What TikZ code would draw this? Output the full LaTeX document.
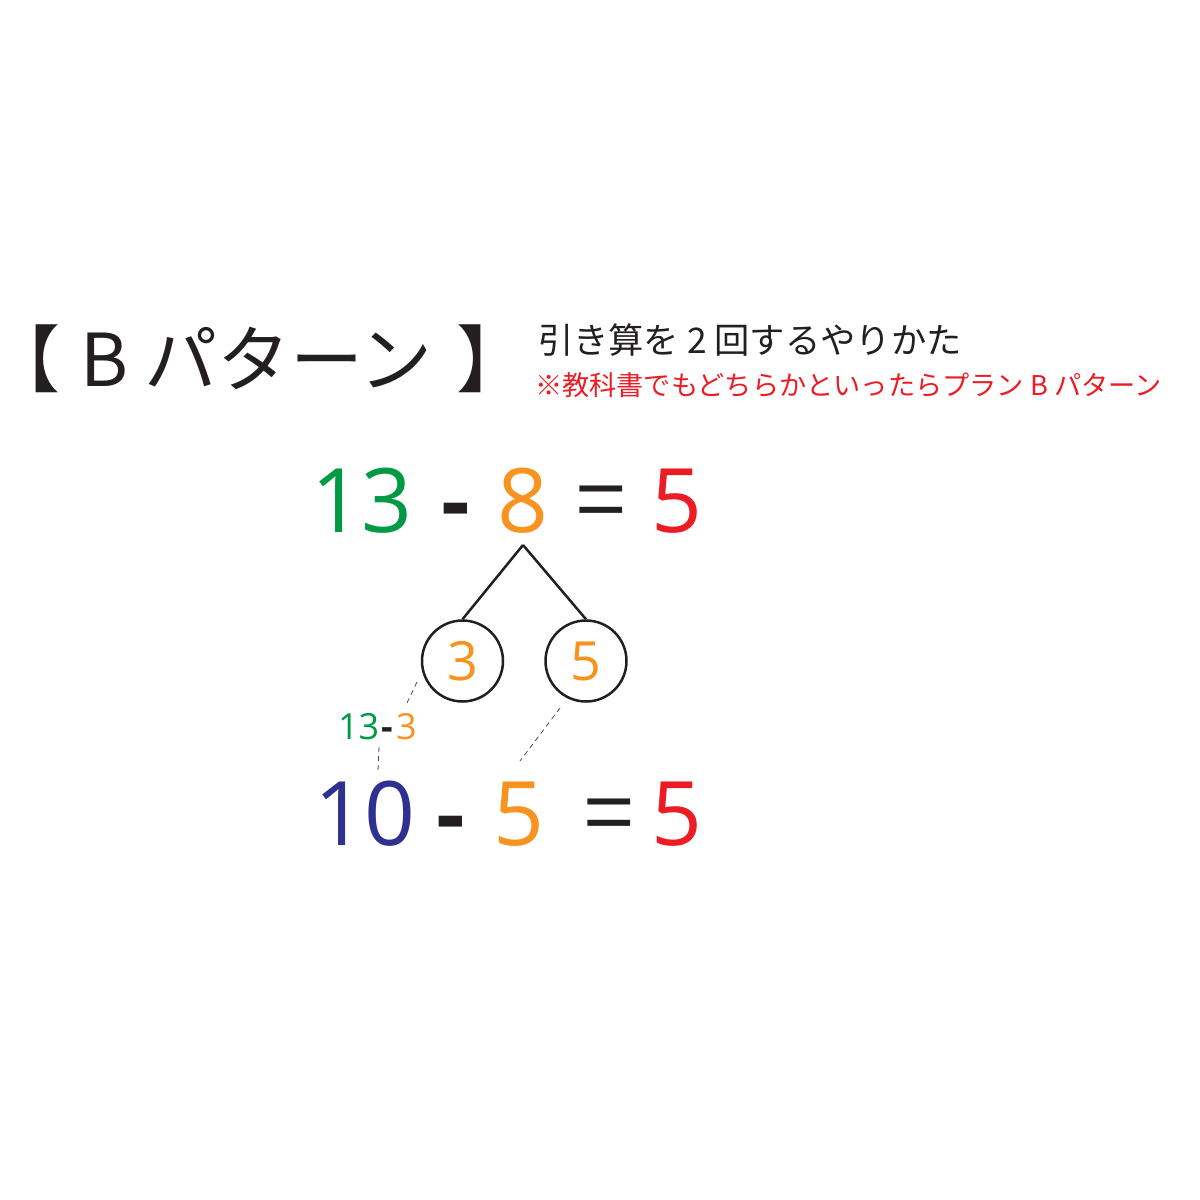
\documentclass[tikz,border=0pt]{standalone}
\usepackage{fontspec}
\setmainfont{Noto Sans CJK JP}
\newfontfamily\digits{Open Sans}
\definecolor{cgreen}{RGB}{0,153,68}
\definecolor{corange}{RGB}{247,147,30}
\definecolor{cred}{RGB}{237,28,36}
\definecolor{cnavy}{RGB}{46,49,146}
\definecolor{cblack}{RGB}{35,31,32}
\tikzset{
  txt/.style={inner sep=0pt, outer sep=0pt, anchor=base west, text=cblack},
  big/.style={txt, font=\digits\fontsize{89}{89}\selectfont},
  bigminus/.style={txt, font=\digits\bfseries\fontsize{89}{89}\selectfont},
  bigeq/.style={txt, font=\fontsize{89}{89}\selectfont},
  title/.style={txt, font=\fontsize{73}{73}\selectfont},
  sub/.style={txt, font=\fontsize{35.3}{36}\selectfont, text height=30pt, text depth=5pt},
  note/.style={txt, font=\fontsize{27.2}{28}\selectfont, text=cred, text height=23pt, text depth=4pt},
  small/.style={txt, font=\digits\fontsize{36}{36}\selectfont},
  smallminus/.style={txt, font=\digits\bfseries\fontsize{36}{36}\selectfont},
  part/.style={draw=cblack, line width=2.5pt, circle, minimum size=81pt, inner sep=0pt, text=corange, font=\digits\fontsize{54}{54}\selectfont},
  branch/.style={draw=cblack, line width=2.5pt},
  guide/.style={draw=black!70, line width=0.8pt, dash pattern=on 5pt off 4pt}
}
\begin{document}
\begin{tikzpicture}[x=1pt,y=-1pt]
\useasboundingbox (0,0) rectangle (1200,1200);
% title
\node[title] (lb) at (0,386) {\kern-13pt【};
\node[title] (tb) at (80,386) {B};
\node[title] (tk) at (144,386) {パターン};
\node[title] (rb) at (456,386) {】};
% subtitle
\node[sub] (s1) at (538,353) {引き算を 2 回するやりかた};
\node[note] (s2) at (535,395) {※教科書でもどちらかといったらプラン B パターン};
% equation 1
\node[big, text=cgreen] (a13) at (311,532) {13};
\node[bigminus] (m1) at (441,532) {-};
\node[big, text=corange] (a8) at (497,532) {8};
\node[bigeq] (e1) at (576,532) {=};
\node[big, text=cred] (r1) at (651,532) {5};
% decomposition
\coordinate (apex) at (523,545);
\node[part] (c3) at (462.5,661) {3};
\node[part] (c5) at (586,661) {5};
\draw[branch] (apex) -- (c3.north);
\draw[branch] (apex) -- (c5.north);
% small note
\node[small, text=cgreen] (n13) at (338,739) {13};
\node[smallminus] (nm) at (381,739) {-};
\node[small, text=corange] (n3) at (396,739) {3};
% guides
\coordinate (g1a) at (417,682);
\coordinate (g1b) at (406,705);
\coordinate (g2a) at (379,747);
\coordinate (g2b) at (378,771);
\coordinate (g3a) at (560,708);
\coordinate (g3b) at (520,761);
\draw[guide] (g1a) -- (g1b);
\draw[guide] (g2a) -- (g2b);
\draw[guide] (g3a) -- (g3b);
% equation 2
\node[big, text=cnavy] (b10) at (314,845) {10};
\node[bigminus] (m2) at (436,845) {-};
\node[big, text=corange] (b5) at (493,845) {5};
\node[bigeq] (e2) at (584,845) {=};
\node[big, text=cred] (r2) at (651,845) {5};
\end{tikzpicture}
\end{document}
